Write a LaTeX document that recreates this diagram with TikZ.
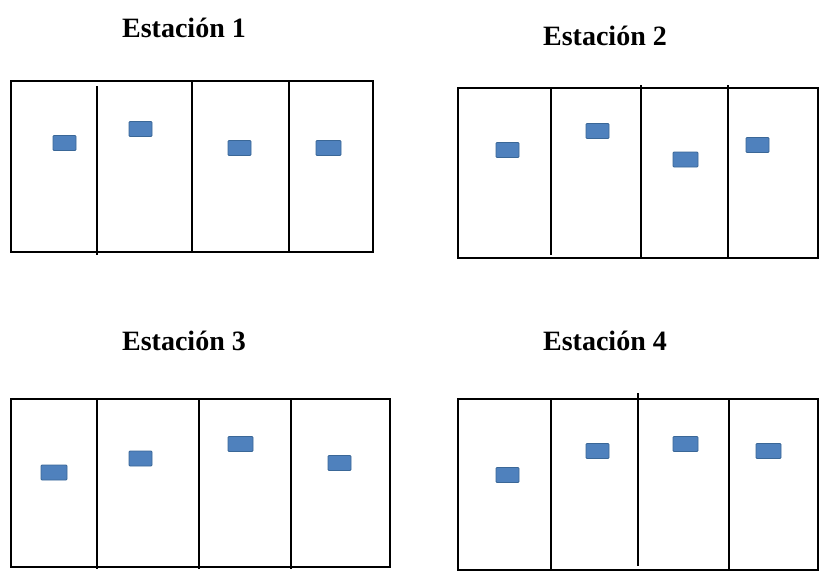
\documentclass[tikz,border=0pt]{standalone}
\usepackage{fontspec}
\setmainfont{Liberation Serif}
\usetikzlibrary{calc}
\definecolor{sensorblue}{HTML}{4F81BD}
\definecolor{sensorline}{HTML}{3A6797}

\begin{document}
\begin{tikzpicture}[x=1pt,y=-1pt,
        %Options for the plan%
        wall/.style={line width=1.7pt, draw=black},%
        sensor/.style={draw=sensorline, fill=sensorblue, line width=0.8pt,
            rounded corners=1pt, inner sep=0pt, minimum height=15pt},%
        title/.style={font=\bfseries\fontsize{28}{30}\selectfont, anchor=base}%
    ]
    \useasboundingbox (0,0) rectangle (819,574);
    %% titles
    \node[title] (t1) at (184,37)  {Estación 1};
    \node[title] (t2) at (605,45)  {Estación 2};
    \node[title] (t3) at (184,350) {Estación 3};
    \node[title] (t4) at (605,350) {Estación 4};
    %
    % Station 1
    \draw[wall] (11,81) rectangle (373,252);
    \draw[wall] (97,86) -- (97,255);
    \draw[wall] (192,81) -- (192,252);
    \draw[wall] (289,81) -- (289,252);
    % Station 2
    \draw[wall] (458,88) rectangle (818,258);
    \draw[wall] (551,88) -- (551,255);
    \draw[wall] (641,85) -- (641,258);
    \draw[wall] (728,85) -- (728,258);
    % Station 3
    \draw[wall] (11,399) rectangle (390,567);
    \draw[wall] (97,399) -- (97,569);
    \draw[wall] (199,399) -- (199,569);
    \draw[wall] (291,399) -- (291,569);
    % Station 4
    \draw[wall] (458,399) rectangle (818,570);
    \draw[wall] (551,399) -- (551,570);
    \draw[wall] (638,393) -- (638,566);
    \draw[wall] (729,399) -- (729,570);
    %
    % Sensors (name / centre / width)
    \foreach \n/\x/\y/\w in {s1a/64.5/143/23, s1b/140.5/129/23, s1c/239.5/148/23, s1d/328.5/148/25,
                            s2a/507.5/150/23, s2b/597.5/131/23, s2c/685.5/159.5/25, s2d/757.5/145/23,
                            s3a/54/472.5/26, s3b/140.5/458.5/23, s3c/240.5/444/25, s3d/339.5/463/23,
                            s4a/507.5/475/23, s4b/597.5/451/23, s4c/685.5/444/25, s4d/768.5/451/25}{
        \node[sensor, minimum width=\w pt] (\n) at (\x,\y) {};
    }
\end{tikzpicture}
\end{document}
